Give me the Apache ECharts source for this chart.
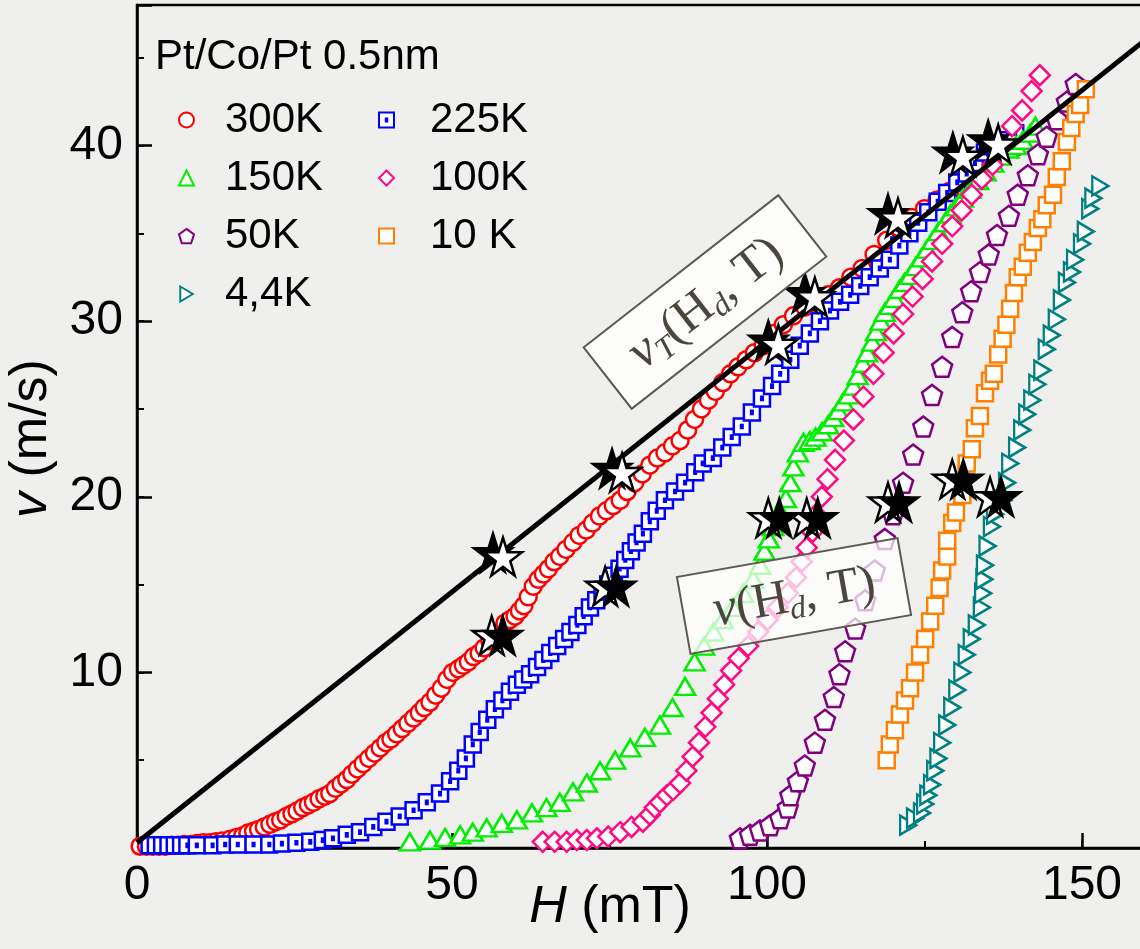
<!DOCTYPE html>
<html>
<head>
<meta charset="utf-8">
<script src="https://cdn.jsdelivr.net/npm/echarts@6.0.0/dist/echarts.min.js"></script>
<style>
  html, body { margin: 0; padding: 0; background: #efefed; }
  #chart { width: 1140px; height: 949px; }
</style>
</head>
<body>
<div id="chart"></div>
<script>
// Domain-wall velocity v versus drive field H for a Pt/Co/Pt 0.5 nm film
const sampleLabel = 'Pt/Co/Pt 0.5nm';
const xTickValues = [0, 50, 100, 150];
const yTickValues = [10, 20, 30, 40];
const legendColumnA = ['300K', '150K', '50K', '4,4K'];
const legendColumnB = ['225K', '100K', '10 K'];

// [H (mT), v (m/s)]
const v300K = [[0.5,0.1],[1.5,0.1],[2.5,0.1],[3.5,0.1],[4.5,0.1],[5.5,0.15],[6.5,0.15],[7.5,0.2],[8.5,0.2],[9.5,0.25],[10.5,0.3],[11.5,0.3],[12.5,0.35],[13.5,0.4],[14.8,0.5],[15.8,0.6],[16.8,0.7],[17.6,0.85],[18.5,0.95],[19.3,1.05],[20.2,1.2],[21.1,1.35],[22,1.5],[22.8,1.6],[23.7,1.8],[24.6,1.95],[25.4,2.1],[26.3,2.3],[27.2,2.45],[28,2.6],[28.9,2.8],[29.8,2.95],[30.6,3.1],[31.5,3.4],[32.4,3.65],[33.3,3.9],[34.1,4.2],[35,4.5],[35.9,4.8],[36.8,5.1],[37.7,5.4],[38.6,5.7],[39.5,6],[40.3,6.2],[41.2,6.5],[42.1,6.8],[43,7.1],[43.9,7.4],[44.8,7.7],[45.6,8],[46.5,8.3],[47.4,8.7],[48.3,9.1],[49.2,9.6],[50.1,10],[51,10.2],[51.8,10.4],[52.6,10.6],[53.4,10.9],[54.3,11.1],[55.1,11.4],[56,11.8],[56.8,12],[57.6,12.3],[58.4,12.8],[59.2,13],[60,13.2],[60.7,13.5],[61.4,13.8],[62.1,14.3],[62.9,14.9],[63.7,15.3],[64.5,15.6],[65.3,15.9],[66.2,16.3],[67.1,16.6],[68.1,17],[69.2,17.4],[70.2,17.8],[71.3,18.1],[72.3,18.5],[73.4,18.9],[74.5,19.2],[75.6,19.5],[76.7,19.8],[77.8,20.3],[79,20.8],[80.2,21.3],[81.4,21.8],[82.6,22.2],[83.8,22.5],[85,22.9],[86.2,23.2],[87.4,23.8],[88.5,24.4],[89.6,25],[90.7,25.5],[91.8,26],[93,26.5],[94.2,27],[95.4,27.4],[96.7,27.8],[98,28.2],[99.4,28.6],[101,29.3],[102.6,29.8],[104.2,30.3],[106,30.8],[107.9,31.2],[109.7,31.5],[111.5,31.9],[113.3,32.5],[115.1,33],[117,33.8],[119,34.6],[121,35.3],[123,35.9],[125,36.4],[127,36.9],[129,37.4],[131,38],[133,38.5],[135,39],[137,39.4],[139.5,39.9]];

const v225K = [[2,0.15],[3,0.15],[4,0.15],[5,0.15],[6,0.15],[7,0.15],[8,0.15],[9.5,0.15],[12,0.15],[14,0.2],[16,0.2],[18.5,0.2],[21,0.2],[23,0.25],[25.3,0.3],[27.5,0.35],[29.5,0.45],[31.1,0.55],[33.3,0.75],[35.4,0.9],[37.5,1.2],[39.6,1.5],[41.7,1.8],[43.9,2.15],[46,2.6],[48.1,3.1],[49.7,3.8],[51,4.4],[52.2,5.1],[53.3,5.9],[54.4,6.6],[55.6,7.3],[56.8,7.9],[58,8.4],[59.2,8.9],[60.3,9.3],[61.3,9.6],[62.4,9.9],[63.5,10.3],[64.5,10.7],[65.6,11.1],[66.7,11.5],[67.8,11.9],[68.8,12.3],[69.9,12.7],[70.9,13.2],[71.9,13.7],[72.9,14.1],[73.9,14.6],[74.8,15],[75.7,15.5],[76.6,15.9],[77.5,16.4],[78.4,16.9],[79.3,17.4],[80.3,17.9],[81.4,18.6],[82.5,19.2],[83.8,19.8],[85.4,20.3],[87,20.8],[88.6,21.4],[89.8,21.9],[91.4,22.2],[92.9,22.8],[94.4,23.4],[96,24],[97.6,24.8],[99.2,25.6],[100.8,26.3],[102.1,27],[103.7,27.8],[105.2,28.6],[106.8,29.3],[108.4,30],[110,30.6],[111.6,31.1],[113.2,31.5],[114.8,32],[116.3,32.5],[117.9,33],[119.5,33.5],[121,34.3],[122.6,35],[124,35.6],[125.6,36.2],[127.1,36.8],[128.6,37.3],[130.2,37.9],[131.7,38.4],[133,39],[134.6,39.6],[136.2,39.9],[138,40.3],[139.4,40.7]];

const v150K = [[43.3,0.35],[46.5,0.45],[48.9,0.6],[51.3,0.75],[53.3,0.9],[55.5,1.15],[57.9,1.4],[60.3,1.6],[62.7,2],[65,2.3],[67.1,2.6],[69.2,3.2],[71.4,3.7],[73.5,4.4],[75.9,5],[78.3,5.7],[80.6,6.3],[83,7],[85,8],[87,9.2],[88.5,10.6],[90,11.5],[91.5,12.3],[93,13],[94.6,13.7],[96.2,14.5],[97.8,15.3],[98.9,16.1],[99.6,16.9],[100.3,17.6],[101,18.3],[102,19.2],[103,19.9],[103.7,20.8],[104.2,21.7],[104.9,22.5],[105.8,23.1],[106.8,23.2],[107.7,23.4],[108.7,23.7],[109.7,24.1],[110.5,24.5],[111.3,24.9],[112.1,25.4],[112.9,25.8],[113.7,26.3],[114.4,26.9],[115.2,27.6],[115.9,28.2],[116.7,28.8],[117.3,29.4],[118,30],[118.7,30.5],[119.5,30.9],[120.2,31.3],[121,31.8],[121.8,32.2],[122.7,32.6],[123.6,33.1],[124.5,33.6],[125.4,34.1],[126.3,34.6],[127.2,35.1],[128.2,35.6],[129.1,36.1],[130,36.5],[131.1,37],[132.3,37.5],[133.5,38],[134.7,38.5],[135.9,39],[137.1,39.4],[138.3,39.8],[139.5,40],[140.6,40.3],[141.8,40.7],[142.6,41.1]];

const v100K = [[64.4,0.35],[66.3,0.35],[68.2,0.35],[69.8,0.45],[71.4,0.45],[73,0.55],[74.8,0.65],[76.7,0.9],[78.5,1.2],[80.3,1.5],[81.4,1.9],[82.2,2.3],[83,2.6],[84.1,3],[85.1,3.3],[86.2,3.7],[87.2,4.4],[88.2,5.2],[89.2,6],[90.2,6.9],[91.2,7.7],[92.2,8.5],[93.2,9.3],[94.3,10.1],[95.5,10.8],[97,11.5],[98.6,12.3],[100.1,13],[101.7,13.7],[103.3,14.5],[104.6,15.4],[105.5,16.3],[106.3,17.1],[107.2,18],[107.8,19],[108.7,20],[109.6,21],[110.8,22.1],[112.2,23.2],[113.7,24.4],[115.3,25.7],[116.9,27],[118.5,28.2],[120.1,29.3],[121.6,30.4],[123.1,31.4],[124.7,32.4],[126.2,33.4],[127.8,34.4],[129.4,35.4],[130.9,36.3],[132.5,37.2],[134.1,38.1],[135.8,38.9],[137.4,40],[138.9,41.1],[140.5,42],[142,43.1],[143.3,44]];

const v50K = [[95.7,0.55],[97.3,0.75],[98.9,1],[100.5,1.3],[102.1,1.7],[103.3,2.3],[103.7,3],[104.9,3.8],[106,4.7],[107.6,6],[109.2,7.3],[110.6,8.6],[111.5,9.9],[112.4,11.2],[114,12.5],[115.6,14.1],[117.1,15.8],[118.7,17.6],[120,19],[121.6,20.8],[123.2,22.4],[124.8,24],[126.2,25.8],[127.8,27.4],[129.4,29.1],[131,30.5],[132.4,31.7],[133.8,32.8],[135.2,33.8],[136.5,34.9],[138.4,36],[139.8,37.2],[141.4,38.3],[143,39.5],[144.4,40.5],[146,41.5],[147.6,42.5],[149,43.5]];

const v10K = [[119,5],[119.5,5.9],[120.3,6.7],[121.1,7.6],[121.9,8.4],[122.7,9.1],[123.5,10],[124.3,11],[125.1,11.9],[125.9,12.9],[126.7,13.8],[127.4,14.8],[127.8,15.8],[128.6,16.6],[128.6,17.5],[129.4,18.5],[130,19.1],[131,20.1],[131.7,21.9],[132.5,22.7],[133,23.9],[133.8,24.6],[134.6,25.9],[135.4,26.6],[136,27],[136.7,28.1],[137.4,29],[138,29.8],[138.6,30.7],[139.2,31.6],[139.8,32.5],[140.6,33.1],[141.4,33.9],[142.2,34.5],[143,35.3],[143.7,35.8],[144.4,36.6],[145.4,37.2],[146,38.2],[146.8,39.1],[147.6,40.2],[148.3,41],[149,41.8],[149.7,42.3],[150.6,43.2]];

const v4K = [[122.4,1.3],[123.5,1.7],[124.6,2],[125.1,2.5],[125.6,3],[126.2,3.6],[126.7,4.4],[127.2,5.1],[127.8,6],[128.6,7],[129.4,8],[130.2,9],[131,10],[131.7,11],[132.5,11.9],[133.3,12.7],[134.1,13.7],[134.3,14.5],[134.5,15.3],[134.6,16.1],[135,17.2],[135.7,18.3],[136.2,19],[137.5,19.8],[138.1,20.8],[138.6,21.9],[139.7,22.8],[140.5,23.8],[141.3,24.7],[142.1,25.5],[142.9,26.4],[143.7,27.2],[144.4,28.4],[145.2,29.2],[146,30.1],[146.8,31.2],[147.6,32.2],[148.4,32.8],[148.9,33.5],[150,34.4],[150.6,35.1],[151.3,36.4],[151.8,37],[152.9,37.7]];

// Terminal (creep-free) velocity line v_T(H_d, T)
const vTLine = [[0, 0.3], [160, 46.0]];
// Depinning points marked on v_T and on each v(H, T) curve
const depinningOnLine = [[57.3,16.7],[76.2,21.5],[101,28.8],[106.8,31.5],[120,36.0],[130.3,39.5],[135.9,40.2]];
const depinningOnCurves = [[57.1,12.1],[75.1,14.9],[101,18.8],[107.1,18.8],[120,19.7],[130.2,21.0],[136.2,20.0]];

const FONT = '"Liberation Sans", Arial, sans-serif';
const SERIF = '"Liberation Serif", "DejaVu Serif", serif';
const STAR = 'path://M0,-1L0.2245,-0.309L0.951,-0.309L0.363,0.118L0.588,0.809L0,0.382L-0.588,0.809L-0.363,0.118L-0.951,-0.309L-0.2245,-0.309Z';
const PENTAGON = 'path://M0,-1L0.951,-0.309L0.588,0.809L-0.588,0.809L-0.951,-0.309Z';
const DOT_SQUARE = 'path://M0,0H20V20H0Z M9,8H11V12H9Z';
const RIGHT_TRI = 'path://M0,0L10,6L0,12Z';

function hollow(name, data, symbol, size, color, z) {
  return {
    name, type: 'scatter', data, symbol, symbolSize: size, z,
    itemStyle: { color: '#ffffff', borderColor: color, borderWidth: 2.5, opacity: 1 },
    emphasis: { disabled: true }, silent: true, animation: false
  };
}
function star(data, fill, offset, z) {
  return {
    type: 'scatter', data, symbol: STAR, symbolSize: 38, symbolOffset: offset, z,
    itemStyle: { color: fill, borderColor: '#000', borderWidth: 2.5, opacity: 1 },
    emphasis: { disabled: true }, silent: true, animation: false
  };
}

function legendColumn(names, left, textGap) {
  return {
    data: names, orient: 'vertical', left, top: 98, padding: 0,
    itemWidth: 15, itemHeight: 15, itemGap: 14, selectedMode: false, symbolKeepAspect: true,
    textStyle: { fontSize: 42, color: '#000', fontFamily: FONT, lineHeight: 44, padding: [0, 0, 0, textGap] }
  };
}

const chart = echarts.init(document.getElementById('chart'));
chart.setOption({
  backgroundColor: '#efefed',
  animation: false,
  title: {
    text: sampleLabel, left: 155, top: 34, padding: 0,
    textStyle: { fontSize: 42, fontWeight: 'normal', color: '#000', fontFamily: FONT, lineHeight: 46 }
  },
  legend: [
    legendColumn(legendColumnA, 178, 26),
    legendColumn(legendColumnB, 378, 31)
  ],
  grid: [
    { left: 137, top: 5, right: -5, bottom: 101, show: true, borderColor: '#000', borderWidth: 2.5,
      backgroundColor: 'transparent', outerBoundsMode: 'none', containLabel: false },
    { left: 137, top: 5, right: -5, bottom: 101, show: false, outerBoundsMode: 'none', containLabel: false }
  ],
  xAxis: [
    {
      type: 'value', gridIndex: 0, min: 0, max: 160, interval: 50,
      axisLine: { show: true, onZero: false, lineStyle: { color: '#000', width: 2.5 } },
      axisTick: { show: true, inside: true, length: 15, lineStyle: { color: '#000', width: 2.5 } },
      axisLabel: { show: true, margin: 14, fontSize: 48, color: '#000', fontFamily: FONT,
        formatter: v => (xTickValues.includes(v) ? String(v) : '') },
      splitLine: { show: false },
      name: '{i|H} (mT)', nameLocation: 'middle', nameGap: 34, nameMoveOverlap: false,
      nameTextStyle: { fontSize: 52, color: '#000', fontFamily: FONT, padding: [0, 62, 0, 0],
        rich: { i: { fontStyle: 'italic', fontSize: 52, fontFamily: FONT, color: '#000' } } }
    },
    {
      type: 'value', gridIndex: 1, min: 0, max: 160, interval: 25,
      axisLine: { show: false }, axisLabel: { show: false }, splitLine: { show: false },
      axisTick: { show: true, inside: true, length: 7, lineStyle: { color: '#000', width: 2 } }
    }
  ],
  yAxis: [
    {
      type: 'value', gridIndex: 0, min: 0, max: 48, interval: 10,
      axisLine: { show: true, onZero: false, lineStyle: { color: '#000', width: 2.5 } },
      axisTick: { show: true, inside: true, length: 15, lineStyle: { color: '#000', width: 2.5 } },
      axisLabel: { show: true, margin: 14, fontSize: 48, color: '#000', fontFamily: FONT,
        formatter: v => (yTickValues.includes(v) ? String(v) : '') },
      splitLine: { show: false },
      name: '{i|v} (m/s)', nameLocation: 'middle', nameGap: 79, nameMoveOverlap: false,
      nameTextStyle: { fontSize: 52, color: '#000', fontFamily: FONT, padding: [0, 24, 0, 0],
        rich: { i: { fontStyle: 'italic', fontSize: 52, fontFamily: FONT, color: '#000' } } }
    },
    {
      type: 'value', gridIndex: 1, min: 0, max: 48, interval: 5,
      axisLine: { show: false }, axisLabel: { show: false }, splitLine: { show: false },
      axisTick: { show: true, inside: true, length: 7, lineStyle: { color: '#000', width: 2 } }
    }
  ],
  series: [
    hollow('300K', v300K, 'circle', 17, '#ff0000', 2),
    hollow('225K', v225K, DOT_SQUARE, 16, '#0000ff', 3),
    hollow('150K', v150K, 'triangle', [20, 17], '#00ee00', 4),
    hollow('100K', v100K, 'diamond', 20, '#ff0a84', 5),
    hollow('50K', v50K, PENTAGON, 20, '#800080', 6),
    hollow('10 K', v10K, 'rect', 16, '#ff8000', 7),
    hollow('4,4K', v4K, RIGHT_TRI, [16, 19], '#008080', 8),
    {
      type: 'line', data: vTLine, symbol: 'none', z: 9, silent: true, animation: false,
      lineStyle: { color: '#000', width: 5 }
    },
    star(depinningOnLine, '#000', [-5, -2], 10),
    star(depinningOnLine, '#fff', [5, 2], 11),
    star(depinningOnCurves, '#fff', [-5, 0], 10),
    star(depinningOnCurves, '#000', [6, 0], 11)
  ],
  graphic: [
    {
      type: 'group', x: 705, y: 302, rotation: 38 * Math.PI / 180,
      children: [
        { type: 'rect', z: 100, shape: { x: -123.5, y: -39, width: 247, height: 78 },
          style: { fill: 'rgba(252,252,251,0.95)', stroke: '#5f5a51', lineWidth: 2 } },
        { type: 'text', z: 101, x: 0, y: 2,
          style: {
            text: '{v|v}{s|T}{n|(H}{s|d}{n|, T)}', align: 'center', verticalAlign: 'middle',
            rich: {
              v: { fontFamily: SERIF, fontStyle: 'italic', fontSize: 52, fill: '#4a463e', lineHeight: 56 },
              n: { fontFamily: SERIF, fontSize: 50, fill: '#4a463e', lineHeight: 56 },
              s: { fontFamily: SERIF, fontStyle: 'italic', fontSize: 32, fill: '#4a463e', lineHeight: 26, verticalAlign: 'bottom' }
            }
          } }
      ]
    },
    {
      type: 'group', x: 794, y: 596, rotation: 10 * Math.PI / 180,
      children: [
        { type: 'rect', z: 100, shape: { x: -112, y: -39, width: 224, height: 78 },
          style: { fill: 'rgba(255,255,255,0.72)', stroke: '#5f5a51', lineWidth: 2 } },
        { type: 'text', z: 101, x: 0, y: 2,
          style: {
            text: '{v|v}{n|(H}{s|d}{n|, T)}', align: 'center', verticalAlign: 'middle',
            rich: {
              v: { fontFamily: SERIF, fontStyle: 'italic', fontSize: 52, fill: '#4a463e', lineHeight: 56 },
              n: { fontFamily: SERIF, fontSize: 50, fill: '#4a463e', lineHeight: 56 },
              s: { fontFamily: SERIF, fontStyle: 'italic', fontSize: 32, fill: '#4a463e', lineHeight: 26, verticalAlign: 'bottom' }
            }
          } }
      ]
    }
  ]
});
</script>
</body>
</html>
